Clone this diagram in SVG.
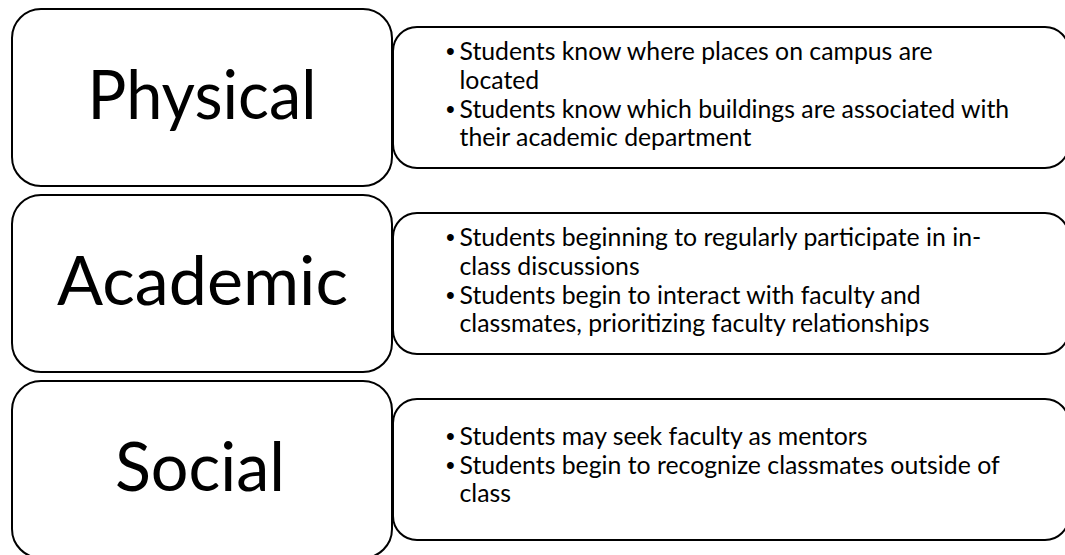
<svg xmlns="http://www.w3.org/2000/svg" width="1065" height="555" viewBox="0 0 1065 555">
<style>
  .box { fill: #ffffff; stroke: #000000; stroke-width: 2; }
  .title { font-family: Lato, "Open Sans", "Liberation Sans", sans-serif; font-size: 68px; fill: #000000; text-anchor: middle; }
  .item { font-family: Lato, "Open Sans", "Liberation Sans", sans-serif; font-size: 24.8px; fill: #000000; }
  .dot { font-family: "Liberation Sans", sans-serif; font-size: 25px; fill: #000000; }
</style>
<rect width="1065" height="555" fill="#ffffff"/>
<g id="connectors"></g>
<g id="row-physical">
  <g id="physical-detail">
    <rect class="box" x="393" y="27" width="676" height="141" rx="24" ry="24"/>
    <text class="dot" x="446" y="60">•</text>
    <text class="item" x="459.5" y="60">Students know where places on campus are</text>
    <text class="item" x="459.5" y="88.7">located</text>
    <text class="dot" x="446" y="117.7">•</text>
    <text class="item" x="459.5" y="117.7">Students know which buildings are associated with</text>
    <text class="item" x="459.5" y="146.4">their academic department</text>
  </g>
  <g id="physical">
    <rect class="box" x="12" y="9" width="380" height="177" rx="29" ry="29"/>
    <text class="title" x="202" y="118.5" textLength="229" lengthAdjust="spacingAndGlyphs">Physical</text>
  </g>
</g>
<g id="row-academic">
  <g id="academic-detail">
    <rect class="box" x="393" y="213" width="676" height="141" rx="24" ry="24"/>
    <text class="dot" x="446" y="246">•</text>
    <text class="item" x="459.5" y="246">Students beginning to regularly participate in in-</text>
    <text class="item" x="459.5" y="274.7">class discussions</text>
    <text class="dot" x="446" y="303.7">•</text>
    <text class="item" x="459.5" y="303.7">Students begin to interact with faculty and</text>
    <text class="item" x="459.5" y="332.4">classmates, prioritizing faculty relationships</text>
  </g>
  <g id="academic">
    <rect class="box" x="12" y="195" width="380" height="177" rx="29" ry="29"/>
    <text class="title" x="202.5" y="304.5" textLength="291" lengthAdjust="spacingAndGlyphs">Academic</text>
  </g>
</g>
<g id="row-social">
  <g id="social-detail">
    <rect class="box" x="393" y="399" width="676" height="141" rx="24" ry="24"/>
    <text class="dot" x="446" y="444.7">•</text>
    <text class="item" x="459.5" y="444.7">Students may seek faculty as mentors</text>
    <text class="dot" x="446" y="473.7">•</text>
    <text class="item" x="459.5" y="473.7">Students begin to recognize classmates outside of</text>
    <text class="item" x="459.5" y="502.4">class</text>
  </g>
  <g id="social">
    <rect class="box" x="12" y="381" width="380" height="177" rx="29" ry="29"/>
    <text class="title" x="200" y="490.5" textLength="170" lengthAdjust="spacingAndGlyphs">Social</text>
  </g>
</g>
</svg>
